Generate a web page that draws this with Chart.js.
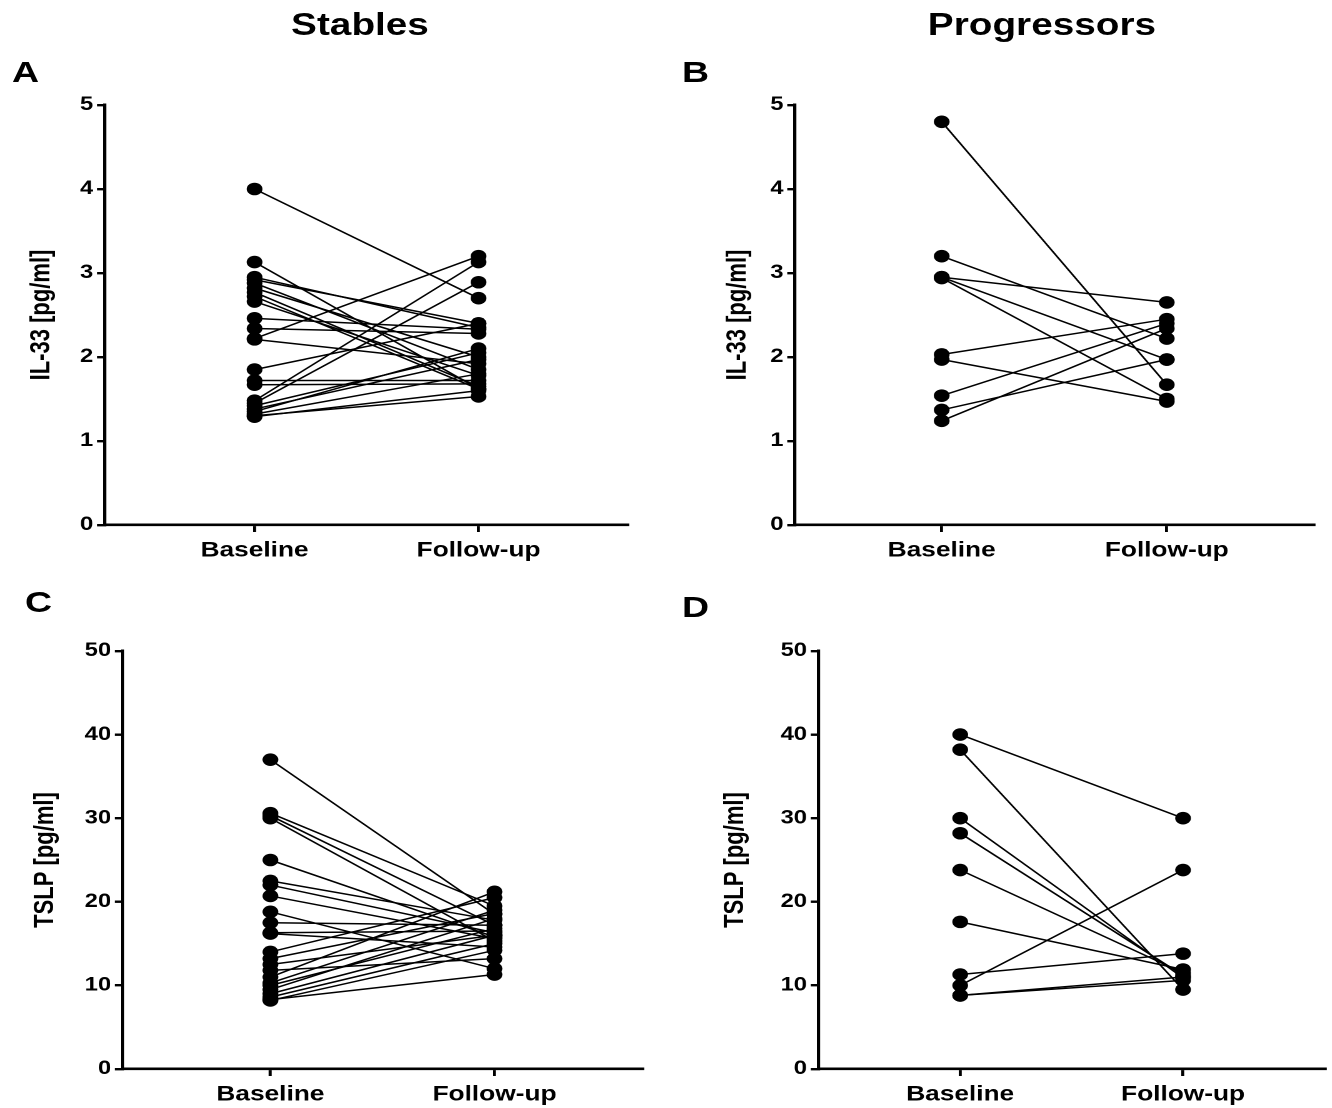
<!DOCTYPE html>
<html><head><meta charset="utf-8">
<script src="https://cdn.jsdelivr.net/npm/chart.js@4"></script>
<style>
html,body{margin:0;padding:0;background:#fff;}
#stage{position:absolute;left:0;top:0;width:1065.6px;height:1108px;transform:scaleX(1.25);transform-origin:0 0;font-family:'Liberation Sans',Arial,sans-serif;font-weight:bold;color:#000;}
.t{position:absolute;white-space:nowrap;line-height:1;}
.box{position:absolute;}
</style></head><body>
<div id="stage">
  <div class="t" style="font-size:31px;left:288px;top:9px;transform:translateX(-50%)">Stables</div>
  <div class="t" style="font-size:31px;left:833.6px;top:9px;transform:translateX(-50%)">Progressors</div>
  <div class="t" style="font-size:30px;left:9.6px;top:57px">A</div>
  <div class="t" style="font-size:30px;left:545.6px;top:57px">B</div>
  <div class="t" style="font-size:30px;left:20px;top:587px">C</div>
  <div class="t" style="font-size:30px;left:545.6px;top:592px">D</div>
  <div class="box" id="bA"><canvas id="cA"></canvas></div>
  <div class="box" id="bB"><canvas id="cB"></canvas></div>
  <div class="box" id="bC"><canvas id="cC"></canvas></div>
  <div class="box" id="bD"><canvas id="cD"></canvas></div>
</div>
<script>
const categories = ['Baseline', 'Follow-up'];
const il33Ticks = [0, 1, 2, 3, 4, 5];
const tslpTicks = [0, 10, 20, 30, 40, 50];

const il33StablesBaseline = [4.00,3.13,2.95,2.92,2.88,2.82,2.77,2.72,2.66,2.46,2.34,2.22,2.21,1.85,1.72,1.67,1.48,1.45,1.42,1.38,1.35,1.32,1.30,1.29];
const il33StablesFollowup = [2.70,1.62,2.35,2.40,1.85,2.00,1.65,1.62,1.78,2.33,2.28,3.20,1.92,2.40,1.72,1.68,3.13,2.89,2.05,1.97,2.10,1.80,1.53,1.60];

const il33ProgBaseline = [4.80,3.20,2.95,2.95,2.94,2.03,1.97,1.54,1.37,1.24];
const il33ProgFollowup = [1.67,2.22,2.65,1.97,1.50,2.45,1.47,2.40,1.97,2.34];

const tslpStablesBaseline = [37.0,30.6,30.3,30.0,25.0,22.5,22.0,20.7,18.8,17.5,16.3,16.2,14.0,13.2,12.5,11.8,11.0,10.3,10.0,9.5,9.0,8.6,8.3,8.2];
const tslpStablesFollowup = [18.5,19.5,17.2,15.3,15.8,17.8,16.3,15.6,12.0,17.2,16.5,14.6,20.5,18.6,16.0,13.2,21.2,19.0,16.8,18.0,16.0,15.0,11.3,14.2];

const tslpProgBaseline = [40.0,38.2,30.0,28.2,23.8,17.6,11.3,10.0,8.8,8.8];
const tslpProgFollowup = [30.0,9.5,10.9,11.2,11.5,11.9,13.8,23.8,11.0,10.6];

const FONT = "'Liberation Sans', Arial, sans-serif";

function makeChart(id, boxId, cfg) {
  const padTop = 15, padRight = 8, xH = 50;
  const areaH = cfg.bottom - cfg.top;
  const W = cfg.yW + cfg.areaW + padRight;
  const H = padTop + areaH + xH;
  const box = document.getElementById(boxId);
  box.style.left = (cfg.axisLeft - cfg.yW) + 'px';
  box.style.top = (cfg.top - padTop) + 'px';
  box.style.width = W + 'px';
  box.style.height = H + 'px';
  const cv = document.getElementById(id);
  cv.width = W; cv.height = H;
  cv.style.width = W + 'px'; cv.style.height = H + 'px';

  const datasets = cfg.base.map((b, i) => ({
    data: [{x: 1, y: b}, {x: 2, y: cfg.follow[i]}],
    showLine: true,
    borderColor: '#000',
    borderWidth: 1.5,
    backgroundColor: '#000',
    pointBackgroundColor: '#000',
    pointBorderWidth: 0,
    pointRadius: 6.3,
    pointHoverRadius: 6.3,
    clip: false
  }));

  new Chart(cv, {
    type: 'scatter',
    data: { datasets },
    options: {
      responsive: false,
      animation: false,
      devicePixelRatio: 2,
      events: [],
      layout: { padding: { left: 0, top: padTop, right: padRight, bottom: 0 } },
      plugins: { legend: { display: false }, tooltip: { enabled: false } },
      scales: {
        x: {
          type: 'linear',
          min: cfg.xMin, max: cfg.xMax,
          afterBuildTicks: s => { s.ticks = categories.map((c, i) => ({ value: i + 1 })); },
          afterFit: s => { s.height = xH; },
          ticks: {
            autoSkip: false,
            maxRotation: 0,
            padding: 6,
            color: '#000',
            font: { family: FONT, size: 21, weight: 'bold' },
            callback: v => categories[Math.round(v) - 1]
          },
          grid: { drawOnChartArea: false, drawTicks: true, tickLength: 7, color: '#000', lineWidth: 2.4 },
          border: { display: true, color: '#000', width: 2.6 }
        },
        y: {
          type: 'linear',
          min: cfg.ticks[0], max: cfg.ticks[cfg.ticks.length - 1],
          afterBuildTicks: s => { s.ticks = cfg.ticks.map(v => ({ value: v })); },
          afterFit: s => { s.width = cfg.yW; },
          ticks: {
            padding: 3,
            color: '#000',
            font: { family: FONT, size: 19, weight: 'bold' }
          },
          title: {
            display: true,
            text: cfg.title,
            color: '#000',
            padding: { top: 4, bottom: 4 },
            font: { family: FONT, size: 22, weight: 'bold' }
          },
          grid: { drawOnChartArea: false, drawTicks: true, tickLength: 6, color: '#000', lineWidth: 2.4 },
          border: { display: true, color: '#000', width: 2.6 }
        }
      }
    }
  });
}

makeChart('cA', 'bA', { axisLeft: 84, areaW: 418.4, top: 105, bottom: 525, yW: 67.6, xMin: 0.33, xMax: 2.665,
  ticks: il33Ticks, title: 'IL-33 [pg/ml]', base: il33StablesBaseline, follow: il33StablesFollowup });
makeChart('cB', 'bB', { axisLeft: 636, areaW: 415.2, top: 105, bottom: 525, yW: 62.8, xMin: 0.347, xMax: 2.653,
  ticks: il33Ticks, title: 'IL-33 [pg/ml]', base: il33ProgBaseline, follow: il33ProgFollowup });
makeChart('cC', 'bC', { axisLeft: 97.6, areaW: 416, top: 651, bottom: 1069, yW: 78.8, xMin: 0.34, xMax: 2.66,
  ticks: tslpTicks, title: 'TSLP [pg/ml]', base: tslpStablesBaseline, follow: tslpStablesFollowup });
makeChart('cD', 'bD', { axisLeft: 654.4, areaW: 405.7, top: 651, bottom: 1069, yW: 83.6, xMin: 0.363, xMax: 2.637,
  ticks: tslpTicks, title: 'TSLP [pg/ml]', base: tslpProgBaseline, follow: tslpProgFollowup });
</script>
</body></html>
